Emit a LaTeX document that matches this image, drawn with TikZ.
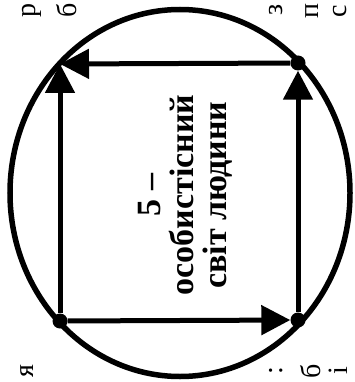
\documentclass[tikz,border=0pt]{standalone}
\usepackage{fontspec}
\setmainfont{Liberation Serif}
\usetikzlibrary{shapes.geometric,arrows.meta}

\begin{document}
\begin{tikzpicture}[x=1pt, y=-1pt,
    world/.style={ellipse, draw, line width=5.5pt, inner sep=0pt,
        minimum width=340pt, minimum height=367pt},
    corner/.style={circle, fill=black, inner sep=0pt, minimum size=15pt},
    arr/.style={-{Triangle[length=29pt, width=29pt]}, line width=5pt},
    caption/.style={rotate=90, align=center,
        font=\bfseries\fontsize{34}{33}\selectfont},
    frag/.style={rotate=90, inner sep=0pt, font=\fontsize{28}{28}\selectfont}
]
    \useasboundingbox (0,0) rectangle (355,382);

    \node[world] (world) at (180,193) {};
    \coordinate (tl) at (60,64);
    \node[corner] (tr) at (298,63) {};
    \node[corner] (bl) at (60,321) {};
    \node[corner] (br) at (298,320) {};

    \draw[arr] (bl) -- (tl);
    \draw[arr] (bl) -- (br);
    \draw[arr] (br) -- (tr);
    \draw[arr] (tr) -- (tl);

    \node[caption] (title) at (185,195) {5 –\\особистісний\\світ людини};

    % fragments of the neighbouring lines
    \node[frag] (f1) at (32,11) {р};
    \node[frag] (f2) at (67,10) {б};
    \node[frag] (f3) at (276,10) {з};
    \node[frag] (f4) at (312,11) {п};
    \node[frag] (f5) at (340,11) {с};
    \node[frag] (f6) at (27,371) {я};
    \node[frag] (f7) at (276,371) {:};
    \node[frag] (f8) at (311,371) {б};
    \node[frag] (f9) at (338,371) {і};
\end{tikzpicture}
\end{document}
